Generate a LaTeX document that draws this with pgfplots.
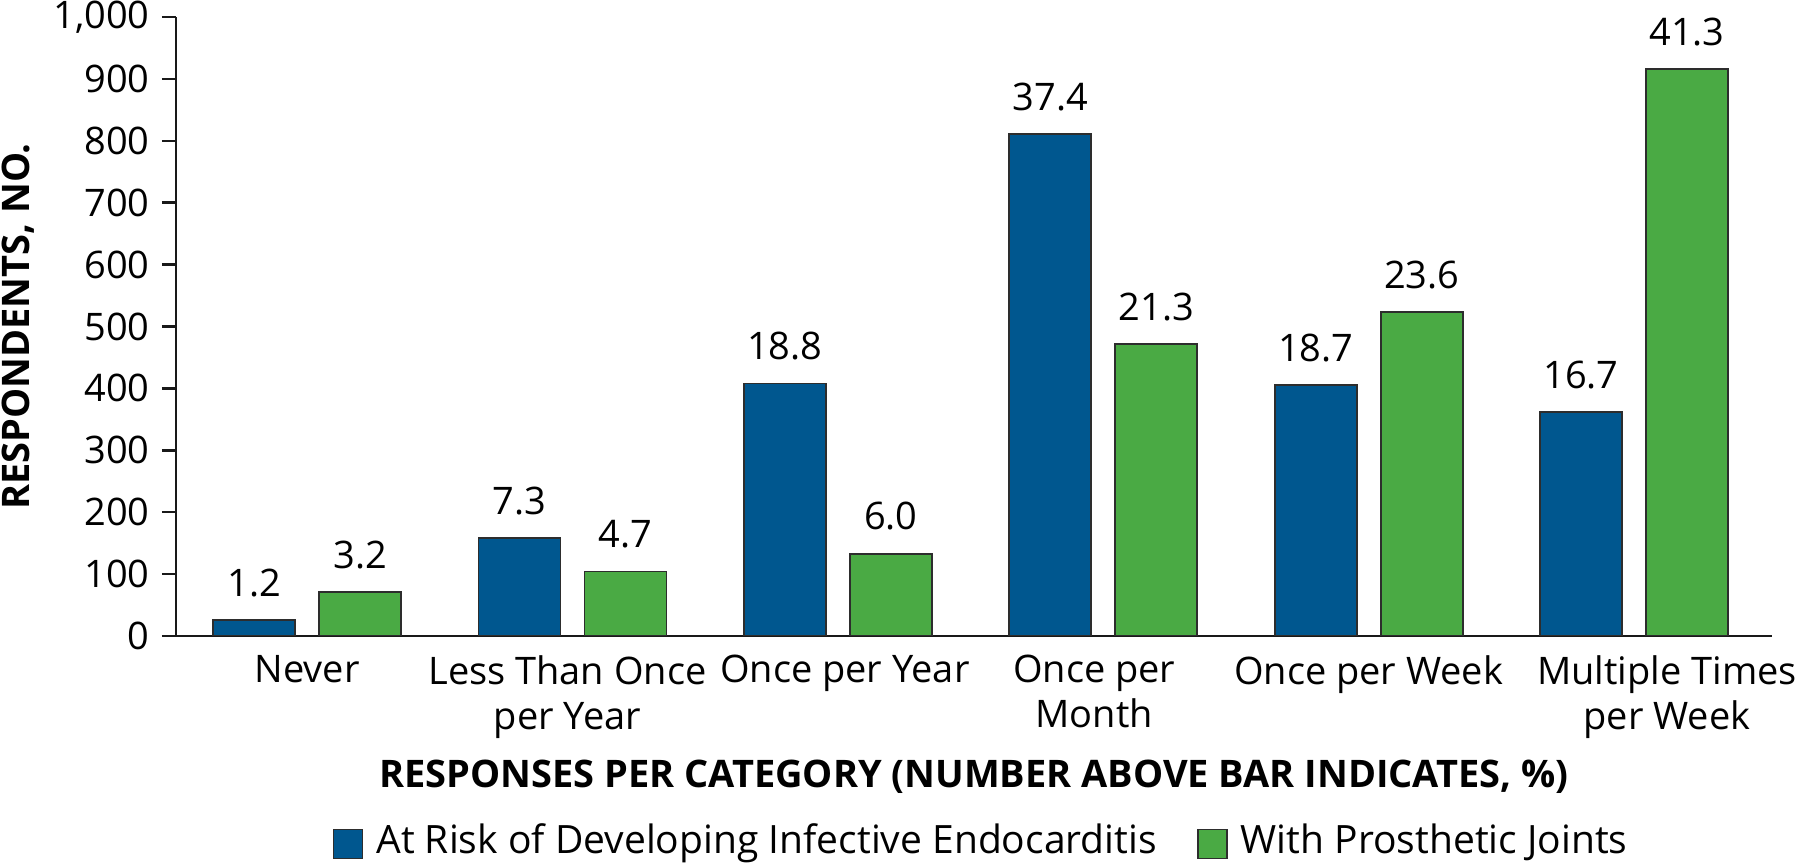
\documentclass[border=0pt]{standalone}
\usepackage{pgfplots}
\pgfplotsset{compat=1.18}
\usepackage{pgfplotstable}
\usepackage{fontspec}
\setmainfont{Open Sans}
\newcommand{\fs}{\fontsize{10.8}{12.8}\selectfont}
\definecolor{cblue}{RGB}{0,87,143}
\definecolor{cgreen}{RGB}{74,170,68}
\definecolor{edge}{RGB}{45,45,45}
\pgfplotstableread{
x y p
0 26 1.2
1 158 7.3
2 408 18.8
3 811 37.4
4 405 18.7
5 362 16.7
}\tblue
\pgfplotstableread{
x y p
0 71 3.2
1 104 4.7
2 133 6.0
3 472 21.3
4 523 23.6
5 916 41.3
}\tgreen
\begin{document}
\begin{tikzpicture}
\begin{axis}[
  width=15.96cm, height=6.19cm, scale only axis,
  ybar, bar width=0.82cm,
  xmin=-0.494, xmax=5.52, ymin=0, ymax=1000,
  ytick={0,100,...,1000},
  xtick={0,1,2,3,4,5},
  xticklabels={Never,
    {Less Than Once\hspace*{0.1cm}\\per Year\hspace*{0.1cm}},
    {\hspace*{0.14cm}Once per Year},
    {Once per\hspace*{0.18cm}\\Month\hspace*{0.18cm}},
    {Once per Week},
    {\hspace*{0.66cm}Multiple Times\\\hspace*{0.66cm}per Week}},
  xticklabel style={align=center, font=\fs, yshift=2pt},
  yticklabel style={font=\fs},
  /pgf/number format/.cd, 1000 sep={,}, assume math mode=true, /pgfplots/.cd,
  axis x line*=bottom, axis y line*=left,
  x axis line style={-}, y axis line style={-},
  axis line style={line width=0.7pt, draw=black!90},
  major tick length=0.14cm,
  xtick style={draw=none},
  ytick style={line width=0.7pt, draw=black!90},
  tick align=outside,
  xlabel={\bfseries RESPONSES PER CATEGORY (NUMBER ABOVE BAR INDICATES, \%)},
  xlabel style={at={(axis description cs:0.5,-0.244)}, anchor=base, font=\fs},
  ylabel={\bfseries RESPONDENTS, NO.},
  ylabel style={at={(axis description cs:-0.099,0.5)}, anchor=center, font=\fs},
  nodes near coords, point meta=explicit symbolic,
  every node near coord/.append style={font=\fs, yshift=3pt},
  legend style={at={(axis description cs:0.506,-0.332)}, anchor=center, legend columns=2, draw=none,
    font=\fontsize{11.1}{13}\selectfont,
    /tikz/every odd column/.append style={column sep=0.06cm},
    /tikz/every even column/.append style={column sep=0.33cm}},
  legend image code/.code={\draw[#1, draw=edge, line width=0.5pt] (0cm,-0.17cm) rectangle (0.29cm,0.12cm);},
  enlarge x limits=false,
]
\addplot[fill=cblue, draw=edge, line width=0.5pt, bar shift=-0.53cm] table[x=x,y=y,meta=p]{\tblue};
\addplot[fill=cgreen, draw=edge, line width=0.5pt, bar shift=0.53cm] table[x=x,y=y,meta=p]{\tgreen};
\legend{At Risk of Developing Infective Endocarditis, With Prosthetic Joints}
\end{axis}
\pgfresetboundingbox
\path[use as bounding box] ([shift={(-1.76cm,-2.27cm)}]current axis.south west) rectangle ([shift={(0.28cm,0.17cm)}]current axis.north east);
\end{tikzpicture}
\end{document}
